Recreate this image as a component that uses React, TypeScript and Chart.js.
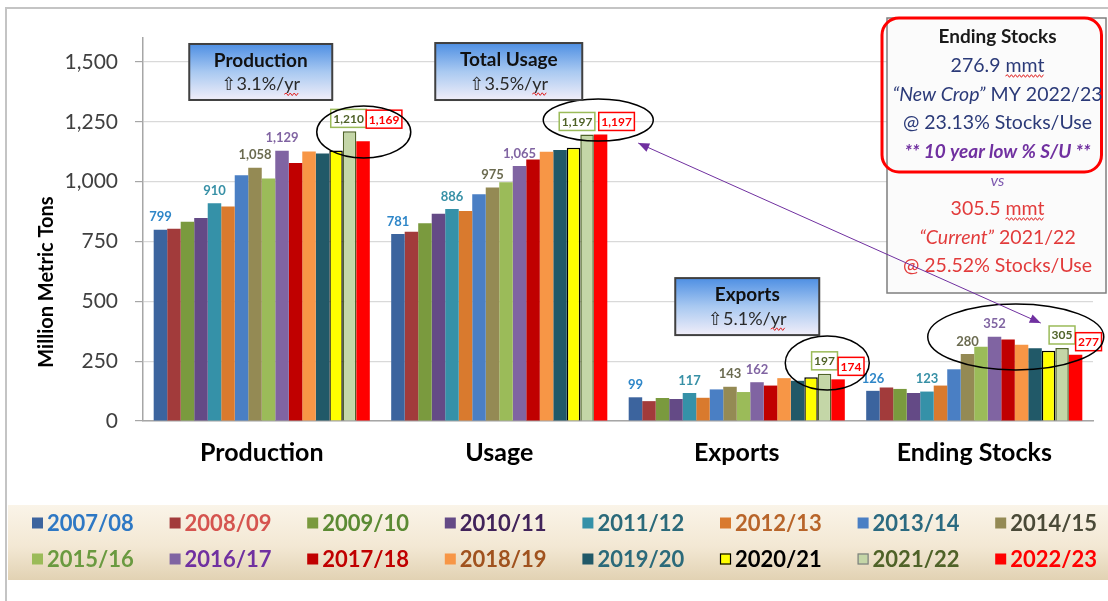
import { useEffect, useRef } from 'react';
import { Chart, registerables } from 'chart.js';

Chart.register(...registerables);

// ---------------- data ----------------
const categories = ['Production', 'Usage', 'Exports', 'Ending Stocks'];
const years = [
  '2007/08', '2008/09', '2009/10', '2010/11', '2011/12', '2012/13', '2013/14', '2014/15',
  '2015/16', '2016/17', '2017/18', '2018/19', '2019/20', '2020/21', '2021/22', '2022/23',
];
const production = [799, 803, 832, 848, 910, 896, 1027, 1058, 1013, 1129, 1078, 1126, 1118, 1130, 1210, 1169];
const usage = [781, 791, 826, 866, 886, 877, 947, 975, 997, 1065, 1092, 1125, 1132, 1142, 1197, 1197];
const exportsData = [99, 83, 96, 92, 117, 97, 132, 143, 121, 162, 148, 179, 168, 183, 197, 174];
const endingStocks = [126, 140, 134, 117, 123, 148, 216, 280, 310, 352, 340, 319, 304, 293, 305, 277];
const yTicks = [0, 250, 500, 750, 1000, 1250, 1500];
const yMax = 1600;

const barColors = [
  '#3C649E', '#A23B3B', '#7A9A3E', '#644A86', '#3591A8', '#D97A2E', '#4A7FC4', '#948A54',
  '#9BBB59', '#8064A2', '#C00000', '#F79646', '#215968', '#FFFF00', '#C4D6A7', '#FF0000',
];
const barBorderColors = [
  '', '', '', '', '', '', '', '', '', '', '', '', '', '#000000', '#4F6228', '',
];
const legendTextColors = [
  '#2E78C4', '#D5544F', '#5B8A33', '#41235A', '#2B6A7A', '#B8652A', '#2B6A80', '#4A4A38',
  '#6A9A40', '#7030A0', '#C00000', '#A0521E', '#2B6A7A', '#000000', '#4F6228', '#FF0000',
];
const labelledSeries = [0, 4, 7, 9, 14, 15];
const labelColors: Record<number, string> = {
  0: '#2E86C8', 4: '#3790A6', 7: '#6B6B50', 9: '#8064A2', 14: '#4F6228', 15: '#FF0000',
};
const boxedLabelStroke: Record<number, string> = { 14: '#9BBB59', 15: '#FF0000' };
// label offsets per category for the two boxed labels [dx, dy]
const greenLabelShift = [[-1, 0], [-10, 0], [0, 0], [0, 0]];
const redLabelShift = [[21, -9], [16, 0], [13, 0], [13, 0]];

const trendBoxes = [
  { cat: 0, dx: -1, w: 143, top: 1575, h: 56, title: 'Production', sub: '\u21E73.1%/yr' },
  { cat: 1, dx: 9.5, w: 147, top: 1579, h: 57, title: 'Total Usage', sub: '\u21E73.5%/yr' },
  { cat: 2, dx: 10.5, w: 144, top: 597, h: 57, title: 'Exports', sub: '\u21E75.1%/yr' },
];
const ellipses = [
  { cat: 0, dx: 102, v: 1207, rx: 47, ry: 26 },
  { cat: 1, dx: 99, v: 1257, rx: 55, ry: 21 },
  { cat: 2, dx: 90.5, v: 242, rx: 42, ry: 27 },
  { cat: 3, dx: 41.5, v: 351, rx: 88, ry: 33 },
];

const FONT = 'Lato, "DejaVu Sans", sans-serif';
const f = (weight: number, size: number, style = 'normal') => `${style} ${weight} ${size}px ${FONT}`;

function squiggle(ctx: CanvasRenderingContext2D, x0: number, x1: number, y: number) {
  ctx.save();
  ctx.strokeStyle = '#E02020';
  ctx.lineWidth = 1;
  ctx.beginPath();
  let up = true;
  ctx.moveTo(x0, y);
  for (let x = x0 + 2; x <= x1; x += 2) {
    ctx.lineTo(x, y + (up ? -1.3 : 1.3));
    up = !up;
  }
  ctx.stroke();
  ctx.restore();
}

type Seg = { t: string; font: string; color: string; squiggle?: boolean };
function drawSegs(ctx: CanvasRenderingContext2D, cx: number, y: number, segs: Seg[]) {
  let total = 0;
  const widths = segs.map((s) => {
    ctx.font = s.font;
    const w = ctx.measureText(s.t).width;
    total += w;
    return w;
  });
  let x = cx - total / 2;
  ctx.textAlign = 'left';
  ctx.textBaseline = 'middle';
  segs.forEach((s, i) => {
    ctx.font = s.font;
    ctx.fillStyle = s.color;
    ctx.fillText(s.t, x, y);
    if (s.squiggle) {
      const lead = s.t.match(/^\s*/)?.[0] ?? '';
      const lw = ctx.measureText(lead).width;
      squiggle(ctx, x + lw, x + widths[i], y + 10);
    }
    x += widths[i];
  });
}

function arrowHead(ctx: CanvasRenderingContext2D, tipX: number, tipY: number, fromX: number, fromY: number) {
  const ang = Math.atan2(tipY - fromY, tipX - fromX);
  const len = 11;
  const half = 4.5;
  ctx.beginPath();
  ctx.moveTo(tipX, tipY);
  ctx.lineTo(tipX - len * Math.cos(ang) + half * Math.sin(ang), tipY - len * Math.sin(ang) - half * Math.cos(ang));
  ctx.lineTo(tipX - len * Math.cos(ang) - half * Math.sin(ang), tipY - len * Math.sin(ang) + half * Math.cos(ang));
  ctx.closePath();
  ctx.fill();
}

const decor = {
  id: 'decor',
  beforeDraw(chart: Chart) {
    const ctx = chart.ctx;
    ctx.save();
    ctx.fillStyle = '#FFFFFF';
    ctx.fillRect(0, 0, chart.width, chart.height);
    // slide frame
    ctx.strokeStyle = '#C4C4C4';
    ctx.lineWidth = 2;
    ctx.beginPath();
    ctx.moveTo(6, chart.height);
    ctx.lineTo(6, 8);
    ctx.lineTo(chart.width, 8);
    ctx.stroke();
    // legend band
    const g = ctx.createLinearGradient(0, 505, 0, 580);
    g.addColorStop(0, '#FAF4E8');
    g.addColorStop(0.55, '#F3E8D4');
    g.addColorStop(1, '#E2D2B3');
    ctx.fillStyle = g;
    ctx.fillRect(8, 505, chart.width - 8, 75);
    ctx.restore();
  },
  afterDraw(chart: Chart) {
    const ctx = chart.ctx;
    const xs = chart.scales.x;
    const ys = chart.scales.y;
    ctx.save();

    // value labels
    labelledSeries.forEach((s) => {
      const meta = chart.getDatasetMeta(s);
      const data = chart.data.datasets[s].data as number[];
      meta.data.forEach((el: any, c: number) => {
        const val = data[c];
        const t = val.toLocaleString('en-US');
        ctx.font = f(700, boxedLabelStroke[s] ? 12 : 13);
        const w = ctx.measureText(t).width;
        let dx = 0, dy = 0;
        if (s === 14) [dx, dy] = greenLabelShift[c];
        if (s === 15) [dx, dy] = redLabelShift[c];
        const cx = el.x + dx;
        const cy = el.y - 13 + dy;
        if (boxedLabelStroke[s]) {
          ctx.fillStyle = '#FFFFFF';
          ctx.fillRect(cx - w / 2 - 2.5, cy - 9, w + 5, 18);
          ctx.strokeStyle = boxedLabelStroke[s];
          ctx.lineWidth = 1.5;
          ctx.strokeRect(cx - w / 2 - 2.5, cy - 9, w + 5, 18);
        }
        ctx.fillStyle = labelColors[s];
        ctx.textAlign = 'center';
        ctx.textBaseline = 'middle';
        ctx.fillText(t, cx, cy + 0.5);
      });
    });

    // ellipses
    ctx.strokeStyle = '#000000';
    ctx.lineWidth = 1.5;
    ellipses.forEach((e) => {
      ctx.beginPath();
      ctx.ellipse(xs.getPixelForValue(e.cat) + e.dx, ys.getPixelForValue(e.v), e.rx, e.ry, 0, 0, Math.PI * 2);
      ctx.stroke();
    });

    // trend boxes
    trendBoxes.forEach((b) => {
      const cx = xs.getPixelForValue(b.cat) + b.dx;
      const x = cx - b.w / 2;
      const y = ys.getPixelForValue(b.top);
      const g = ctx.createLinearGradient(0, y, 0, y + b.h);
      g.addColorStop(0, '#4E8FE3');
      g.addColorStop(0.5, '#A9C9F1');
      g.addColorStop(1, '#F1EEF9');
      ctx.fillStyle = g;
      ctx.fillRect(x, y, b.w, b.h);
      ctx.strokeStyle = '#404040';
      ctx.lineWidth = 2;
      ctx.strokeRect(x, y, b.w, b.h);
      ctx.textAlign = 'center';
      ctx.textBaseline = 'middle';
      ctx.fillStyle = '#111111';
      ctx.font = f(700, 19);
      ctx.fillText(b.title, cx, y + b.h * 0.3);
      ctx.font = f(400, 18);
      ctx.fillStyle = '#2A2A2A';
      const sy = y + b.h * 0.72;
      ctx.fillText(b.sub, cx, sy);
      const full = ctx.measureText(b.sub).width;
      const yr = ctx.measureText('yr').width;
      squiggle(ctx, cx + full / 2 - yr, cx + full / 2, sy + 10);
    });

    // ending stocks panel
    const right = chart.chartArea.right;
    const px = right - 206, py = 18, pw = 219, ph = 275;
    ctx.fillStyle = '#FBFBFB';
    ctx.fillRect(px, py, pw, ph);
    ctx.strokeStyle = '#7F7F7F';
    ctx.lineWidth = 1.5;
    ctx.strokeRect(px, py, pw, ph);
    ctx.strokeStyle = '#FF0000';
    ctx.lineWidth = 3;
    ctx.beginPath();
    (ctx as any).roundRect(px - 5, py, pw + 0.5, 154, 17);
    ctx.stroke();
    const pcx = px + pw / 2 + 1;
    const blue = '#2B3A78';
    const red = '#E23B3B';
    const fs = 19.5;
    drawSegs(ctx, pcx, 37, [{ t: 'Ending Stocks', font: f(700, 19), color: '#1A1A1A' }]);
    drawSegs(ctx, pcx, 66, [
      { t: '276.9', font: f(400, fs), color: blue },
      { t: ' mmt', font: f(400, fs), color: blue, squiggle: true },
    ]);
    drawSegs(ctx, pcx, 95, [
      { t: '\u201CNew Crop\u201D', font: f(400, fs, 'italic'), color: blue },
      { t: ' MY 2022/23', font: f(400, fs), color: blue },
    ]);
    drawSegs(ctx, pcx, 123, [{ t: '@ 23.13% Stocks/Use', font: f(400, fs), color: blue }]);
    drawSegs(ctx, pcx, 152, [{ t: '** 10 year low % S/U **', font: f(700, 19, 'italic'), color: '#7030A0' }]);
    drawSegs(ctx, pcx, 181, [{ t: 'vs', font: f(400, 16, 'italic'), color: '#7E5AB0' }]);
    drawSegs(ctx, pcx, 209, [
      { t: '305.5', font: f(400, fs), color: red },
      { t: ' mmt', font: f(400, fs), color: red, squiggle: true },
    ]);
    drawSegs(ctx, pcx, 238, [
      { t: '\u201CCurrent\u201D', font: f(400, fs, 'italic'), color: red },
      { t: ' 2021/22', font: f(400, fs), color: red },
    ]);
    drawSegs(ctx, pcx, 266, [{ t: '@ 25.52% Stocks/Use', font: f(400, fs), color: red }]);

    // purple double arrow
    const a0x = xs.getPixelForValue(1) + 139, a0y = ys.getPixelForValue(1161);
    const a1x = xs.getPixelForValue(3) + 66.5, a1y = ys.getPixelForValue(409);
    ctx.strokeStyle = '#7030A0';
    ctx.fillStyle = '#7030A0';
    ctx.lineWidth = 1;
    ctx.beginPath();
    ctx.moveTo(a0x, a0y);
    ctx.lineTo(a1x, a1y);
    ctx.stroke();
    arrowHead(ctx, a0x, a0y, a1x, a1y);
    arrowHead(ctx, a1x, a1y, a0x, a0y);

    // legend
    years.forEach((yr, i) => {
      const col = i % 8;
      const row = Math.floor(i / 8);
      const x = 32 + col * 137.6;
      const y = 523 + row * 36;
      ctx.fillStyle = barColors[i];
      ctx.fillRect(x, y - 5.5, 11, 11);
      if (barBorderColors[i]) {
        ctx.strokeStyle = barBorderColors[i] === '#4F6228' ? '#7F7F7F' : '#000000';
        ctx.lineWidth = 1.2;
        ctx.strokeRect(x + 0.5, y - 5, 10, 10);
      }
      ctx.fillStyle = legendTextColors[i];
      ctx.font = f(700, 22);
      ctx.textAlign = 'left';
      ctx.textBaseline = 'middle';
      ctx.fillText(yr, x + 15, y + 1);
    });

    // y axis title
    ctx.save();
    ctx.translate(47, 282);
    ctx.rotate(-Math.PI / 2);
    ctx.fillStyle = '#000000';
    ctx.font = f(700, 20);
    ctx.textAlign = 'center';
    ctx.textBaseline = 'middle';
    ctx.fillText('Million Metric Tons', 0, 0);
    ctx.restore();

    ctx.restore();
  },
};

export default function App() {
  const ref = useRef<HTMLCanvasElement | null>(null);
  useEffect(() => {
    document.body.style.margin = '0';
    const canvas = ref.current;
    if (!canvas) return;
    const datasets = years.map((yr, i) => ({
      label: yr,
      data: [production[i], usage[i], exportsData[i], endingStocks[i]],
      backgroundColor: barColors[i],
      borderColor: barBorderColors[i] || barColors[i],
      borderWidth: barBorderColors[i] ? 1.5 : 0,
      barPercentage: 1,
      categoryPercentage: 0.91,
    }));
    const chart = new Chart(canvas, {
      type: 'bar',
      data: { labels: categories, datasets },
      options: {
        responsive: false,
        animation: false,
        layout: { padding: { top: 38, right: 15, left: 0, bottom: 0 } },
        plugins: { legend: { display: false }, tooltip: { enabled: false } },
        scales: {
          x: {
            type: 'category',
            offset: true,
            grid: { display: true, drawOnChartArea: false, drawTicks: false },
            border: { color: '#A6A6A6', width: 1.5 },
            ticks: { color: '#000000', font: { family: FONT, size: 25, weight: 'bold' }, padding: 17 },
            afterFit: (s: any) => { s.height = 180; },
          },
          y: {
            min: 0,
            max: yMax,
            afterBuildTicks: (s: any) => { s.ticks = yTicks.map((v) => ({ value: v })); },
            grid: { color: '#D9D9D9', lineWidth: 1.2, tickColor: '#A6A6A6', tickLength: 8 },
            border: { color: '#A6A6A6', width: 1.5 },
            ticks: {
              color: '#404040',
              font: { family: FONT, size: 21 },
              padding: 17,
              callback: (v: any) => Number(v).toLocaleString('en-US'),
            },
            afterFit: (s: any) => { s.width = 143; },
          },
        },
      },
      plugins: [decor],
    } as any);
    return () => chart.destroy();
  }, []);
  return (
    <div style={{ width: 1108, height: 601 }}>
      <canvas ref={ref} width={1108} height={601} style={{ display: 'block' }} />
    </div>
  );
}
